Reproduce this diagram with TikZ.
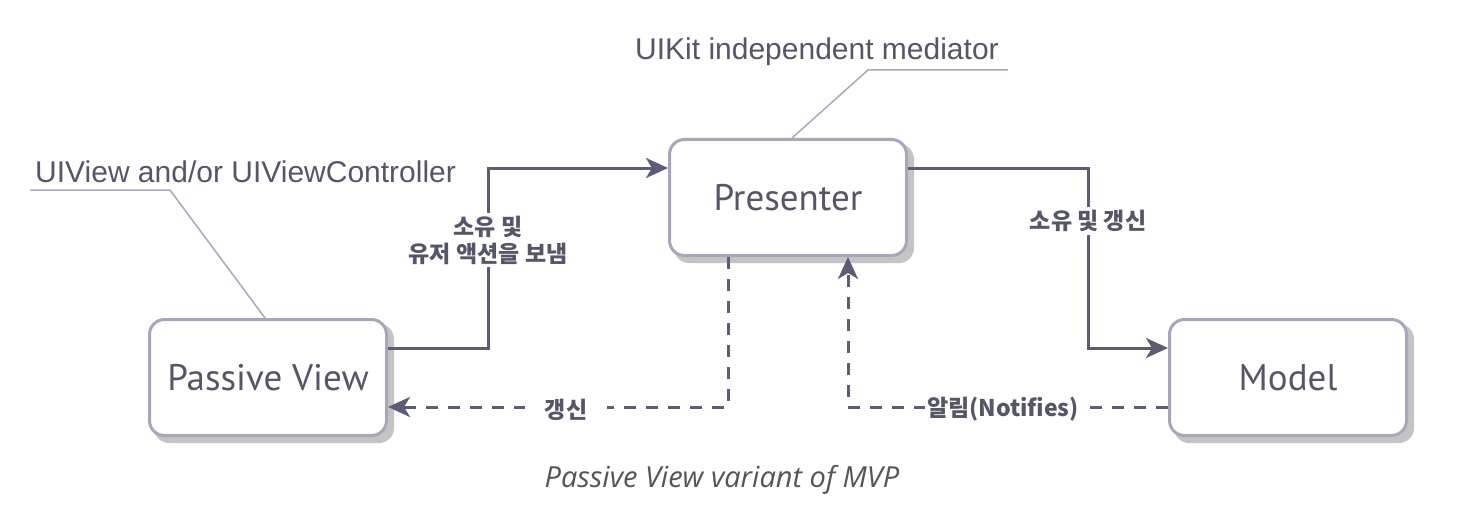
\documentclass[tikz,border=0pt]{standalone}
\usepackage{fontspec}
\setmainfont{Liberation Sans}
\newfontfamily\boxfont{PT Sans}
\newfontfamily\capfont{Open Sans}
\newfontfamily\kr{Noto Sans CJK KR}
\usetikzlibrary{arrows.meta,calc}
\definecolor{boxline}{HTML}{A6A6BD}
\definecolor{shadowc}{HTML}{C4C4C4}
\definecolor{txt}{HTML}{565669}
\definecolor{conn}{HTML}{5C5C72}
\definecolor{cline}{HTML}{A8A8C0}
\definecolor{captxt}{HTML}{555555}
\tikzset{
  box/.style={draw=boxline, line width=3pt, fill=white, rounded corners=15pt,
    minimum width=237pt, minimum height=116pt, inner sep=0pt,
    font=\boxfont\fontsize{37}{42}\selectfont, text=txt},
  shadowbox/.style={fill=shadowc, rounded corners=15pt, minimum width=240pt, minimum height=119pt, inner sep=0pt},
  connline/.style={draw=conn, line width=3pt, -{Stealth[length=22pt,width=20pt,inset=6pt]}},
  dashline/.style={connline, dash pattern=on 12pt off 10pt},
  lbl/.style={fill=white, text=txt, font=\kr\bfseries\fontsize{23}{27}\selectfont, align=center, inner sep=3pt},
  calltext/.style={text=txt, font=\fontsize{30}{34}\selectfont, inner sep=0pt},
  callline/.style={draw=cline, line width=1.5pt},
}
\begin{document}
\begin{tikzpicture}[x=1pt,y=-1pt]
\useasboundingbox (0,0) rectangle (1464,516);
\fill[white] (0,0) rectangle (1464,516);
% shadows
\node[shadowbox] at (274,383.5) {};
\node[shadowbox] at (794,203.5) {};
\node[shadowbox] at (1294,383.5) {};
% boxes
\node[box] (pv) at (268,377.5) {Passive View};
\node[box] (pr) at (788,197.5) {Presenter};
\node[box] (md) at (1288,377.5) {Model};
% solid connectors
\coordinate (a1) at (488,348);
\draw[connline] ([yshift=29.5pt]pv.east) -- (a1) |- ([yshift=29.5pt]pr.west);
\node[lbl] (l1) at (488,240) {소유 및\\유저 액션을 보냄};
\coordinate (a2) at (1088,168);
\draw[connline] ([yshift=29.5pt]pr.east) -- (a2) |- ([yshift=29.5pt]md.west);
\node[lbl] (l2) at (1088,221) {소유 및 갱신};
% dashed connectors
\draw[dashline] ([xshift=-60pt]pr.south) |- ([yshift=-29.5pt]pv.east);
\node[lbl, inner xsep=20pt] (l3) at (566,410) {갱신};
\draw[dashline] ([yshift=-29.5pt]md.west) -| ([xshift=60pt]pr.south);
\node[lbl, inner xsep=2pt] (l4) at (1003,409) {알림(Notifies)};
% callouts
\node[calltext, anchor=west] (c1) at (35,172) {UIView and/or UIViewController};
\coordinate (e1s) at (30,190);
\coordinate (e1) at (170,190);
\draw[callline] (e1s) -- (e1) -- ([xshift=-3pt]pv.north);
\node[calltext, anchor=west] (c2) at (635,52) {UIKit independent mediator};
\coordinate (e2s) at (1008,70);
\coordinate (e2) at (868,70);
\draw[callline] (e2s) -- (e2) -- ([xshift=4pt]pr.north);
% caption
\node[text=captxt, font=\capfont\itshape\fontsize{29}{34}\selectfont, inner sep=0pt] (cap) at (722,480) {Passive View variant of MVP};
\end{tikzpicture}
\end{document}
